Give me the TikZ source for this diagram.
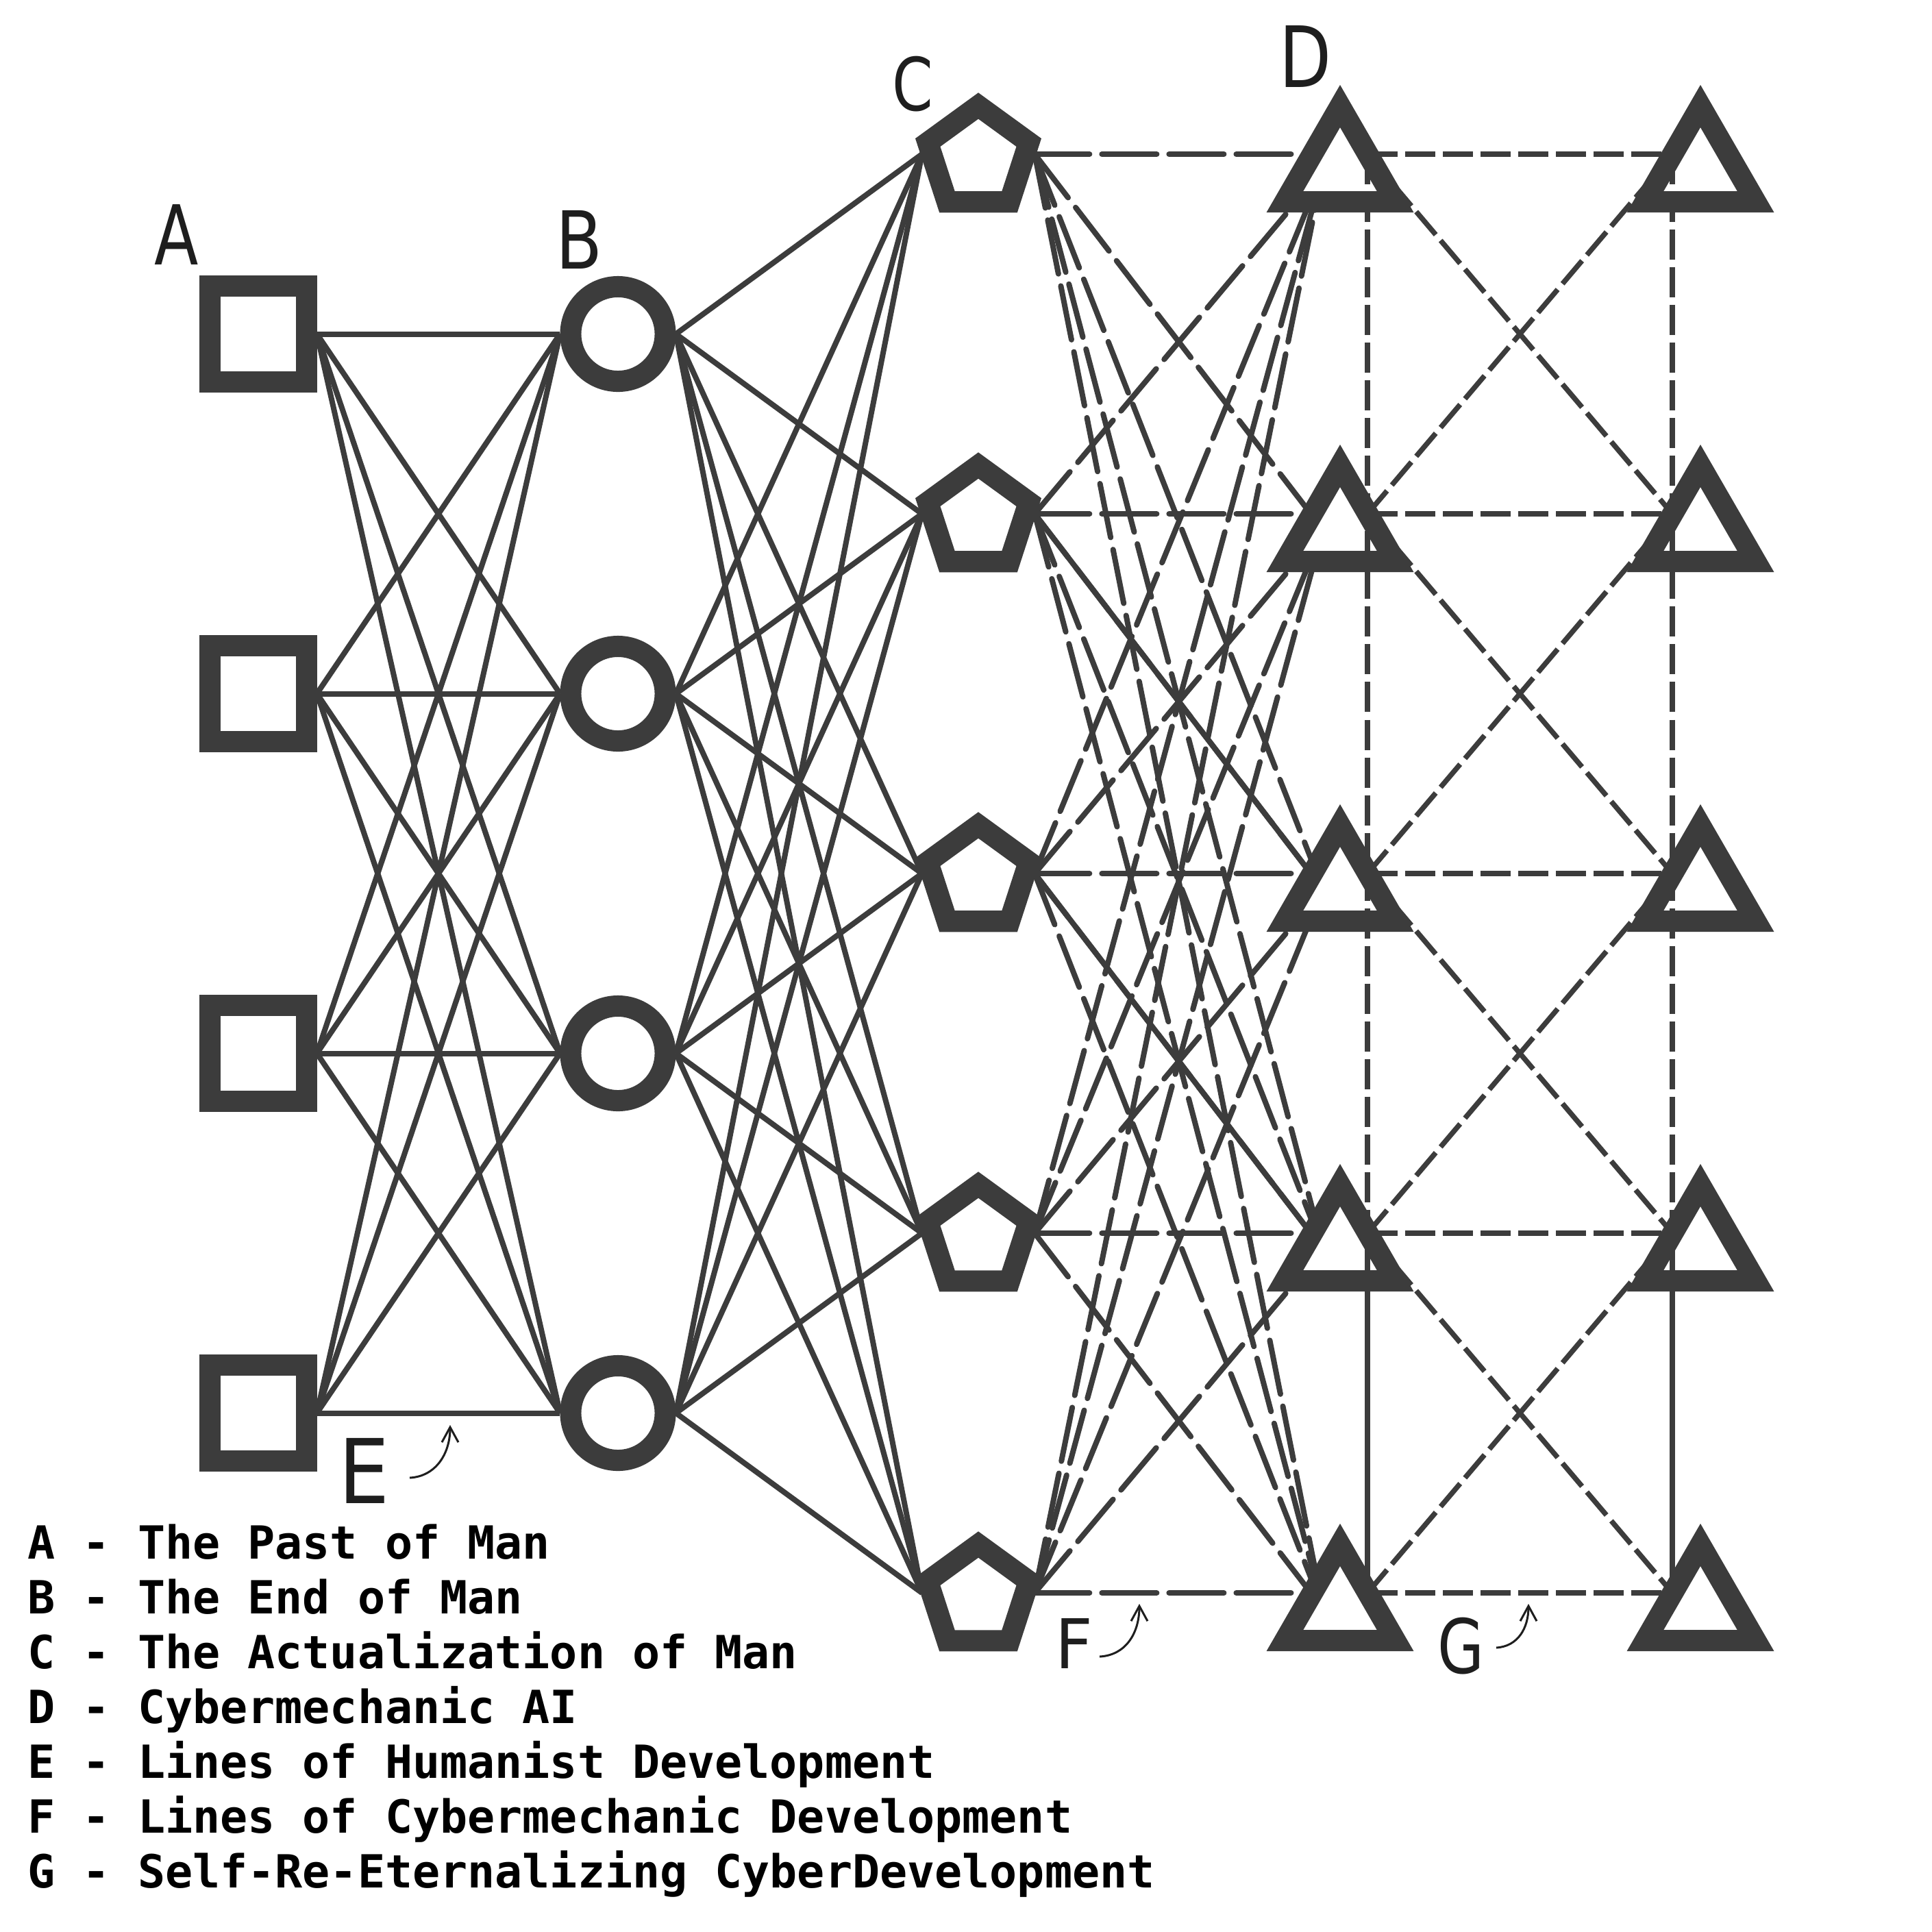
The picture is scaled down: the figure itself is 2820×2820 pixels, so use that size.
\documentclass[tikz,border=0pt]{standalone}
\usepackage{fontspec}
\usepackage{graphicx}
\usetikzlibrary{shapes.geometric,calc,arrows.meta}
\newfontfamily\legendfont{DejaVu Sans Mono}
\newfontfamily\letterfont{DejaVu Sans}
\definecolor{shapegray}{HTML}{3C3C3C}
\definecolor{inkdark}{HTML}{1E1E1E}
\pgfdeclarelayer{back}
\pgfdeclarelayer{edges}
\pgfsetlayers{back,edges,main}
\begin{document}
\begin{tikzpicture}[x=0.01cm,y=-0.01cm,
  shapebase/.style={draw=shapegray, fill=white, line width=0.31cm, inner sep=0pt},
  sqbox/.style={shapebase, rectangle, minimum size=1.40cm},
  circbox/.style={shapebase, circle, minimum size=1.38cm},
  pentbox/.style={shapebase, regular polygon, regular polygon sides=5, minimum size=1.55cm},
  tribox/.style={shapebase, regular polygon, regular polygon sides=3, minimum size=1.86cm},
  humline/.style={draw=shapegray, line width=0.08cm},
  cyberline/.style={draw=shapegray, line width=0.08cm, line cap=round, dash pattern=on 0.8cm off 0.18cm},
  cybersolid/.style={draw=shapegray, line width=0.08cm, line cap=round},
  eterline/.style={draw=shapegray, line width=0.075cm, dash pattern=on 0.44cm off 0.11cm},
  etersolid/.style={draw=shapegray, line width=0.075cm},
  tag/.style={text=inkdark, inner sep=0pt, font=\letterfont},
  legendtext/.style={anchor=base west, inner sep=0pt, text=black, font=\legendfont\bfseries\fontsize{18.95}{22}\selectfont},
  pointer/.style={draw=inkdark, line width=0.03cm, -{Straight Barb[length=0.22cm,width=0.24cm]}}
]
\begin{pgfonlayer}{back}
\fill[white] (0,0) rectangle (2820,2820);
\end{pgfonlayer}
\useasboundingbox (0,0) rectangle (2820,2820);

% nodes
\foreach \i in {0,...,3} \node[sqbox] (A\i) at (377,{487.5+525*\i}) {};
\foreach \i in {0,...,3} \node[circbox] (B\i) at (902,{487.5+525*\i}) {};
\foreach \i in {0,...,4} \node[pentbox] (C\i) at (1428,{232+525*\i}) {};
\foreach \i in {0,...,4} \node[tribox] (D\i) at (1956,{248+525*\i}) {};
\foreach \i in {0,...,4} \node[tribox] (E\i) at (2482,{248+525*\i}) {};

% connectors beneath the shapes
\begin{pgfonlayer}{edges}
\foreach \i in {0,...,3}{\foreach \j in {0,...,3}{\draw[humline] (A\i.east) -- (B\j.west);}}
\foreach \i in {0,...,3}{\foreach \j in {0,...,4}{\draw[humline] (B\i.east) -- ($(C\j.west)+(0,-7)$);}}
\foreach \i in {0,...,4}{\foreach \j in {0,...,4}{%
  \ifnum\i=\j
    \draw[cyberline] ($(C\i.east)+(0,-7)$) -- ($(D\j.center)+(0,-23)$);
  \else
    \draw[cyberline] ($(C\i.east)+(0,-7)$) -- ($(D\j.center)+(-25,0)$);
  \fi}}
\draw[cybersolid] ($(C1.east)+(0,-7)$) -- ($(D2.center)+(-25,0)$);
\draw[cybersolid] ($(C2.east)+(0,-7)$) -- ($(D3.center)+(-25,0)$);
\foreach \k in {0,...,4}{\draw[eterline] ($(D\k.center)+(40,-23)$) -- ($(E\k.center)+(-41,-23)$);}
\foreach \k in {0,...,3}{%
  \pgfmathtruncatemacro\n{\k+1}
  \draw[eterline] ($(D\k.center)+(40,-23)$) -- ($(E\n.center)+(-41,-23)$);
  \draw[eterline] ($(D\n.center)+(40,-23)$) -- ($(E\k.center)+(-41,-23)$);}
\end{pgfonlayer}

% vertical lines over the triangles
\draw[eterline] ($(D0.center)+(40,-23)$) -- ($(D3.center)+(40,-23)$);
\draw[etersolid] ($(D3.center)+(40,-23)$) -- ($(D4.center)+(40,-23)$);
\draw[eterline] ($(E0.center)+(-41,-23)$) -- ($(E3.center)+(-41,-23)$);
\draw[etersolid] ($(E3.center)+(-41,-23)$) -- ($(E4.center)+(-41,-23)$);

% letter labels
\node[tag] (labA) at (258,343) {\fontsize{34.3}{34}\selectfont\scalebox{0.78}[1]{A}};
\node[tag] (labB) at (846,350) {\fontsize{33.2}{34}\selectfont\scalebox{0.85}[1]{B}};
\node[tag] (labC) at (1332,123) {\fontsize{30.4}{31}\selectfont\scalebox{0.8}[1]{C}};
\node[tag] (labD) at (1906,82) {\fontsize{35.1}{36}\selectfont\scalebox{0.8}[1]{D}};
\node[tag] (labE) at (532,2147) {\fontsize{37.1}{38}\selectfont\scalebox{0.9}[1]{E}};
\node[tag] (labF) at (1568,2399) {\fontsize{28.5}{29}\selectfont\scalebox{0.95}[1]{F}};
\node[tag] (labG) at (2132,2403) {\fontsize{31.2}{32}\selectfont\scalebox{0.8}[1]{G}};

% pointer arrows
\coordinate (Es) at (598,2157); \coordinate (Et) at (657,2080);
\draw[pointer] (Es) .. controls (636,2155) and (657,2122) .. (Et);
\coordinate (Fs) at (1605,2418); \coordinate (Ft) at (1663,2341);
\draw[pointer] (Fs) .. controls (1643,2416) and (1663,2384) .. (Ft);
\coordinate (Gs) at (2184,2405); \coordinate (Gt) at (2231,2341);
\draw[pointer] (Gs) .. controls (2216,2403) and (2231,2376) .. (Gt);

% legend
\node[legendtext] (L1) at (40,2275) {A - The Past of Man};
\node[legendtext] (L2) at (40,2355) {B - The End of Man};
\node[legendtext] (L3) at (40,2435) {C - The Actualization of Man};
\node[legendtext] (L4) at (40,2515) {D - Cybermechanic AI};
\node[legendtext] (L5) at (40,2595) {E - Lines of Humanist Development};
\node[legendtext] (L6) at (40,2675) {F - Lines of Cybermechanic Development};
\node[legendtext] (L7) at (40,2755) {G - Self-Re-Eternalizing CyberDevelopment};
\end{tikzpicture}
\end{document}
